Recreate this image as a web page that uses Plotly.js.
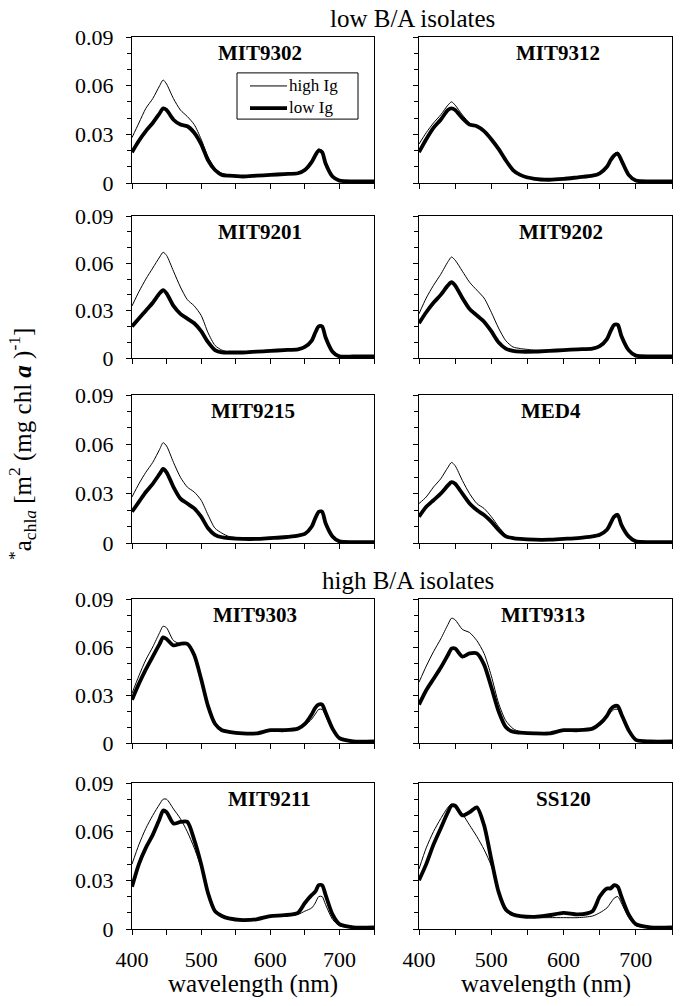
<!DOCTYPE html>
<html>
<head>
<meta charset="utf-8">
<script src="https://cdn.plot.ly/plotly-3.0.1.min.js"></script>
<style>html,body{margin:0;padding:0;background:#fff}#chart{width:684px;height:1006px}</style>
</head>
<body>
<div id="chart"></div>
<script>
// ---- data ----
const wavelength = [400,410,420,430,440,445,450,460,470,480,490,500,510,520,530,540,560,580,600,620,640,650,660,665,670,675,680,690,700,720,750];
const strainNames = ['MIT9302','MIT9312','MIT9201','MIT9202','MIT9215','MED4','MIT9303','MIT9313','MIT9211','SS120'];
const seriesNames = ['high Ig','low Ig'];
const xTickVals = [400,500,600,700];
const yTickVals = [0,0.03,0.06,0.09];
const yTickText = ['0','0.03','0.06','0.09'];
const groupTitles = ['low B/A isolates','high B/A isolates'];

const high_MIT9302 = [.028,.037,.046,.052,.060,.0635,.061,.052,.045,.041,.036,.027,.016,.009,.006,.0045,.004,.0045,.005,.0055,.0065,.009,.014,.018,.021,.020,.013,.004,.0015,.001,.001];
const low_MIT9302  = [.019,.026,.032,.037,.043,.046,.045,.039,.036,.035,.031,.024,.014,.008,.005,.0045,.004,.0045,.005,.0055,.006,.008,.013,.017,.020,.019,.012,.004,.0015,.001,.001];
const high_MIT9312 = [.024,.031,.037,.042,.048,.050,.048,.042,.037,.035,.032,.027,.021,.014,.008,.005,.0025,.002,.0025,.0035,.0045,.006,.010,.014,.018,.019,.014,.005,.0015,.001,.001];
const low_MIT9312  = [.019,.027,.034,.039,.045,.046,.045,.040,.036,.035,.032,.027,.021,.014,.008,.005,.0025,.002,.0025,.0035,.0045,.006,.010,.014,.017,.018,.014,.005,.0015,.001,.001];
const high_MIT9201 = [.033,.042,.050,.057,.064,.067,.065,.055,.045,.037,.033,.027,.016,.008,.005,.004,.004,.0045,.005,.0055,.006,.007,.011,.016,.021,.021,.014,.005,.0015,.001,.001];
const low_MIT9201  = [.020,.025,.030,.035,.041,.043,.041,.033,.028,.025,.022,.017,.010,.005,.0035,.0035,.0035,.004,.0045,.005,.0055,.007,.011,.016,.020,.020,.013,.004,.001,.001,.001];
const high_MIT9202 = [.028,.038,.046,.053,.061,.064,.062,.055,.048,.043,.038,.029,.019,.011,.007,.006,.005,.005,.005,.0055,.006,.0075,.012,.017,.021,.021,.014,.005,.0015,.001,.001];
const low_MIT9202  = [.022,.029,.035,.040,.046,.048,.046,.038,.031,.027,.023,.017,.010,.006,.0045,.004,.004,.0045,.005,.0055,.006,.0075,.012,.017,.021,.021,.014,.005,.0015,.001,.001];
const high_MIT9215 = [.028,.036,.043,.049,.057,.061,.059,.049,.040,.034,.031,.026,.017,.009,.006,.004,.003,.003,.0035,.004,.005,.006,.010,.015,.019,.020,.013,.004,.001,.0005,.0005];
const low_MIT9215  = [.019,.025,.031,.036,.042,.045,.043,.034,.027,.024,.021,.016,.009,.005,.0035,.003,.0025,.0025,.003,.0035,.0045,.0055,.010,.015,.019,.019,.012,.004,.001,.0005,.0005];
const high_MED4    = [.024,.028,.034,.039,.046,.049,.047,.038,.030,.024,.021,.016,.010,.005,.003,.0025,.002,.002,.0025,.003,.004,.005,.009,.013,.017,.018,.012,.004,.001,.0005,.0005];
const low_MED4     = [.016,.022,.026,.030,.035,.037,.036,.030,.024,.020,.017,.013,.008,.004,.003,.0025,.002,.002,.0025,.003,.004,.005,.008,.012,.016,.017,.011,.004,.001,.0005,.0005];
const high_MIT9303 = [.031,.042,.052,.060,.069,.073,.072,.064,.062,.062,.055,.040,.023,.012,.008,.007,.006,.006,.0075,.008,.009,.011,.015,.018,.021,.021,.017,.008,.003,.001,.001];
const low_MIT9303  = [.027,.037,.046,.054,.062,.066,.065,.061,.062,.062,.055,.040,.023,.012,.008,.007,.006,.006,.008,.008,.009,.012,.018,.022,.024,.024,.019,.009,.003,.001,.001];
const high_MIT9313 = [.038,.048,.057,.065,.074,.078,.077,.071,.069,.064,.056,.042,.025,.014,.009,.007,.006,.006,.0075,.008,.009,.011,.016,.019,.021,.021,.017,.007,.002,.001,.001];
const low_MIT9313  = [.024,.033,.040,.047,.055,.059,.059,.054,.056,.056,.049,.035,.020,.010,.007,.0065,.006,.006,.008,.008,.009,.012,.017,.021,.023,.023,.018,.008,.002,.001,.001];
const high_MIT9211 = [.040,.052,.062,.070,.077,.080,.080,.074,.068,.060,.050,.038,.022,.011,.008,.007,.006,.0065,.008,.008,.009,.011,.013,.016,.020,.020,.015,.006,.002,.001,.001];
const low_MIT9211  = [.026,.040,.050,.058,.068,.073,.072,.065,.066,.066,.055,.040,.022,.011,.008,.0065,.0055,.006,.008,.0085,.010,.016,.021,.023,.027,.027,.021,.009,.003,.001,.001];
const high_SS120   = [.037,.050,.060,.068,.075,.077,.076,.071,.064,.057,.049,.039,.024,.012,.009,.008,.007,.007,.007,.007,.008,.010,.013,.016,.019,.020,.016,.007,.002,.001,.001];
const low_SS120    = [.030,.040,.052,.062,.072,.076,.076,.070,.072,.075,.064,.043,.023,.012,.009,.008,.0075,.0085,.010,.009,.011,.020,.025,.025,.027,.026,.020,.009,.003,.001,.001];

const highSeries = [high_MIT9302,high_MIT9312,high_MIT9201,high_MIT9202,high_MIT9215,high_MED4,high_MIT9303,high_MIT9313,high_MIT9211,high_SS120];
const lowSeries  = [low_MIT9302,low_MIT9312,low_MIT9201,low_MIT9202,low_MIT9215,low_MED4,low_MIT9303,low_MIT9313,low_MIT9211,low_SS120];

// ---- layout geometry ----
const W = 684, H = 1006;
const rowsPx = [[37,183],[216,358],[395,543],[599,743],[783,929]];
const colsPx = [[132,374],[419,672]];
const labelXFrac = [0.53,0.55,0.53,0.56,0.5,0.52,0.51,0.49,0.57,0.57];
const FONT = '"Liberation Serif", "Times New Roman", Times, serif';
const lineWidths = [1, 3.8];

const px = v => v / W, py = v => 1 - v / H;

const traces = [];
const layout = {
  width: W, height: H,
  margin: {l:0,r:0,t:0,b:0},
  paper_bgcolor: '#fff', plot_bgcolor: '#fff',
  font: {family: FONT, color: '#000', size: 20},
  showlegend: false,
  annotations: [],
  shapes: []
};

strainNames.forEach((name, i) => {
  const r = Math.floor(i/2), c = i % 2;
  const n = i + 1;
  const xa = n === 1 ? 'x' : 'x' + n;
  const ya = n === 1 ? 'y' : 'y' + n;
  [highSeries[i], lowSeries[i]].forEach((ys, k) => {
    traces.push({
      x: wavelength, y: ys, xaxis: xa, yaxis: ya, type: 'scatter', mode: 'lines',
      name: seriesNames[k],
      line: {color: '#000', width: lineWidths[k], shape: 'spline', smoothing: 0.7}
    });
  });
  const xd = [px(colsPx[c][0]), px(colsPx[c][1])];
  const yd = [py(rowsPx[r][1]), py(rowsPx[r][0])];
  layout[n === 1 ? 'xaxis' : 'xaxis' + n] = {
    domain: xd, anchor: ya, range: [400, 750],
    showgrid: false, zeroline: false,
    showline: true, linecolor: '#000', linewidth: 1, mirror: true,
    ticks: 'outside', ticklen: 5, tickwidth: 1, tickcolor: '#000',
    tickvals: xTickVals, showticklabels: r === 4,
    tickfont: {family: FONT, size: 22, color: '#000'},
    ticklabelstandoff: 6,
    minor: {tickvals: [450,550,650,750], ticks: 'outside', ticklen: 5, tickcolor: '#000', showgrid: false}
  };
  layout[n === 1 ? 'yaxis' : 'yaxis' + n] = {
    domain: yd, anchor: xa, range: [0, 0.09],
    showgrid: false, zeroline: false,
    showline: true, linecolor: '#000', linewidth: 1, mirror: true,
    ticks: 'outside', ticklen: 5, tickwidth: 1, tickcolor: '#000',
    tickvals: yTickVals, ticktext: yTickText, showticklabels: c === 0,
    tickfont: {family: FONT, size: 22, color: '#000'},
    ticklabelstandoff: 8,
    minor: {dtick: 0.01, ticks: 'outside', ticklen: 4, tickcolor: '#000', showgrid: false}
  };
  layout.annotations.push({
    text: '<b>' + name + '</b>', xref: xa + ' domain', yref: ya + ' domain',
    x: labelXFrac[i], y: 1 - 16/(rowsPx[r][1]-rowsPx[r][0]), xanchor: 'center', yanchor: 'middle',
    showarrow: false, font: {family: FONT, size: 21, color: '#000'}
  });
});

// legend box (first panel)
const legFont = 17, legCenter = 96, legStep = legFont * 1.3;
layout.shapes.push({type: 'rect', xref: 'paper', yref: 'paper', x0: px(237), x1: px(358),
  y0: py(legCenter + legStep + 1), y1: py(legCenter - legStep - 1),
  line: {color: '#000', width: 1}, fillcolor: '#fff', layer: 'above'});
[-0.5, 0.5].forEach((off, k) => {
  const yy = legCenter + off * legStep + 1;
  layout.shapes.push({type: 'line', xref: 'paper', yref: 'paper', x0: px(250), x1: px(287), y0: py(yy), y1: py(yy),
    line: {color: '#000', width: lineWidths[k]}, layer: 'above'});
});
layout.annotations.push({text: seriesNames.join('<br>'), xref: 'paper', yref: 'paper', x: px(288), y: py(legCenter),
  xanchor: 'left', yanchor: 'middle', align: 'left', showarrow: false, borderpad: 0,
  font: {family: FONT, size: legFont, color: '#000'}});

// x axis titles
colsPx.forEach((cp) => {
  layout.annotations.push({
    text: 'wavelength (nm)', xref: 'paper', yref: 'paper',
    x: px((cp[0]+cp[1])/2), y: py(984), xanchor: 'center', yanchor: 'middle',
    showarrow: false, font: {family: FONT, size: 25, color: '#000'}
  });
});
// group titles
layout.annotations.push({text: groupTitles[0], xref: 'paper', yref: 'paper', x: px(412), y: py(18),
  xanchor: 'center', yanchor: 'middle', showarrow: false, font: {family: FONT, size: 25, color: '#000'}});
layout.annotations.push({text: groupTitles[1], xref: 'paper', yref: 'paper', x: px(408), y: py(580),
  xanchor: 'center', yanchor: 'middle', showarrow: false, font: {family: FONT, size: 25, color: '#000'}});
// y axis title
layout.annotations.push({
  text: '<sup>*</sup>a<sub>chl<i>a</i></sub> [m<sup>2</sup> (mg chl <b><i>a</i></b> )<sup>-1</sup>]',
  xref: 'paper', yref: 'paper', x: px(22), y: py(444), xanchor: 'center', yanchor: 'middle',
  textangle: -90, showarrow: false, font: {family: FONT, size: 25, color: '#000'}
});

Plotly.newPlot('chart', traces, layout, {displayModeBar: false, staticPlot: true});
</script>
</body>
</html>
